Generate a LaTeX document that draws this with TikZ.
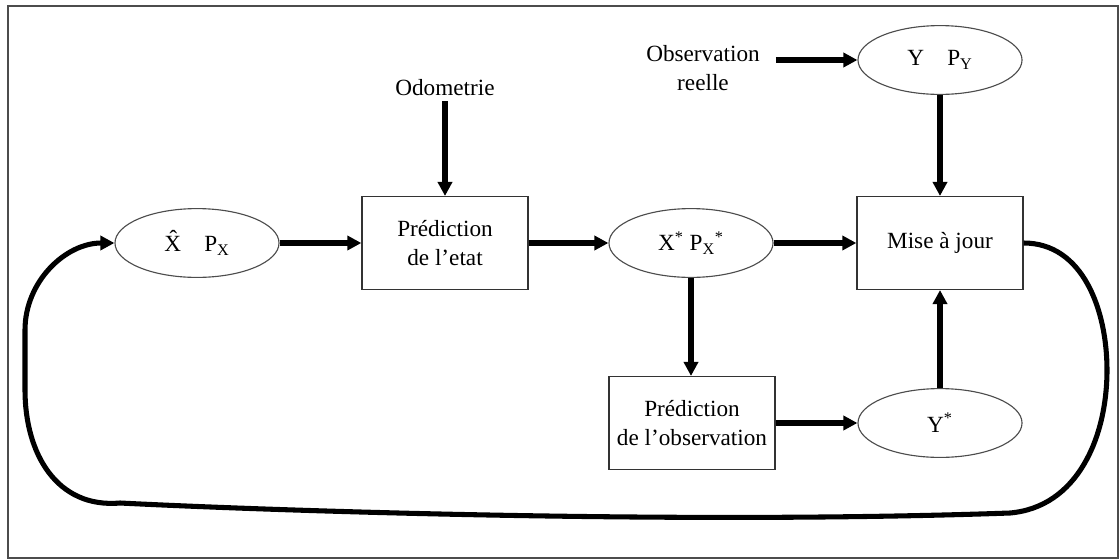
\documentclass[tikz,border=0pt]{standalone}
\usepackage{fontspec}
\setmainfont{Liberation Serif}
\usetikzlibrary{shapes.geometric,arrows.meta}
\tikzset{
  etat/.style={ellipse,draw=black!70,line width=0.8pt,minimum width=4.1cm,minimum height=1.72cm,inner sep=0pt},
  bloc/.style={rectangle,draw=black!80,line width=0.9pt,minimum width=4.15cm,minimum height=2.32cm,align=center},
  fleche/.style={line width=3.6pt,-{Triangle[length=10pt,width=10pt]}},
}
\begin{document}
\begin{tikzpicture}[x=0.025cm,y=-0.025cm,font=\fontsize{16.5}{21}\selectfont]
    \useasboundingbox (0,0) rectangle (1120,560);
    % 外框
    \draw[black!70,line width=1.2pt] (8,6) rectangle (1118,558);

    % 椭圆
    \node [etat] (xhat) at (197,243) {\^{X}\quad P\textsubscript{X}};
    \node [etat] (xstar) at (691,243) {X\textsuperscript{*} P\textsubscript{X}\textsuperscript{*}};
    \node [etat] (yobs) at (940,60) {Y\quad P\textsubscript{Y}};
    \node [etat] (ystar) at (940,423) {Y\textsuperscript{*}};

    % 方框
    \node [bloc] (predetat) at (445,243) {Prédiction\\de l’etat};
    \node [bloc] (mise) at (940,243) {Mise à jour};
    \node [bloc] (predobs) at (692,423) {Prédiction\\de l’observation};

    % 文字
    \node (odo) at (445,88) {Odometrie};
    \node [align=center] (obsreelle) at (703,68) {Observation\\reelle};

    % 箭头
    \draw[fleche] (odo) -- (predetat);
    \draw[fleche,shorten <=8pt] (obsreelle.east |- yobs) -- (yobs);
    \draw[fleche] (yobs) -- (mise);
    \draw[fleche] (xhat) -- (predetat);
    \draw[fleche] (predetat) -- (xstar);
    \draw[fleche] (xstar) -- (mise);
    \draw[fleche] (xstar.south) -- (xstar.south |- predobs.north);
    \draw[fleche] (predobs.east |- ystar) -- (ystar);
    \draw[fleche] (ystar) -- (mise);

    % 回路
    \draw[fleche] (mise.east) to[out=0,in=90] (1107,370) to[out=-90,in=5] (1010,513)
        .. controls (700,524) and (300,512) .. (120,503)
        to[out=185,in=-90,looseness=1.1] (25,390) -- (25,330) to[out=90,in=180] (xhat.west);
\end{tikzpicture}
\end{document}
